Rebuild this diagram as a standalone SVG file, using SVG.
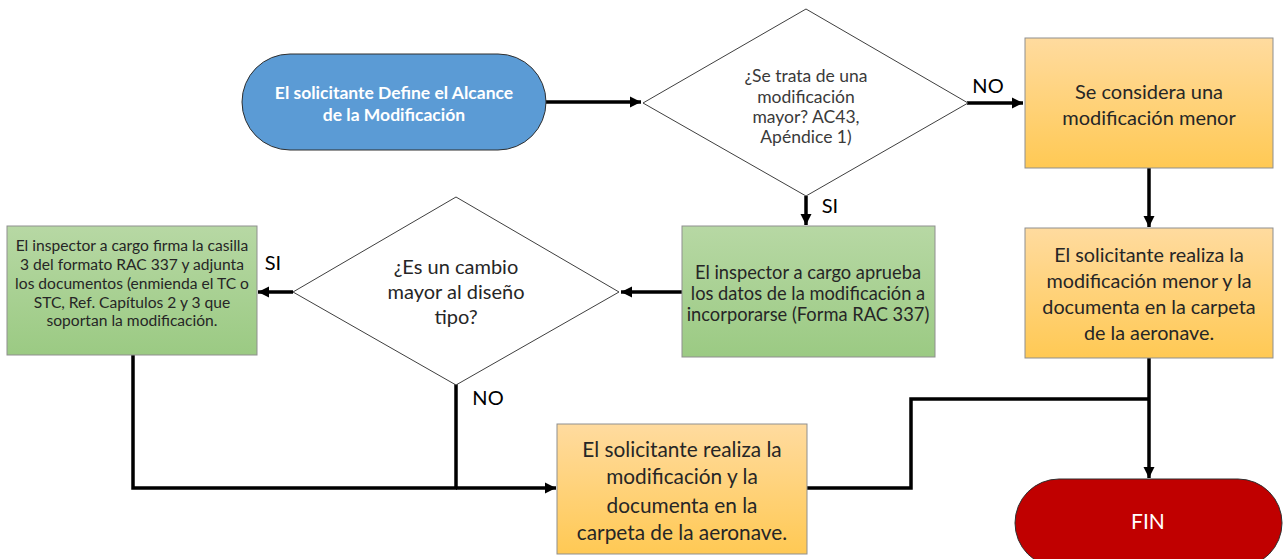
<svg xmlns="http://www.w3.org/2000/svg" width="1284" height="559" viewBox="0 0 1284 559">
<defs>
<linearGradient id="gOr" x1="0" y1="0" x2="0" y2="1"><stop offset="0" stop-color="#FFDB9F"/><stop offset="1" stop-color="#FFC954"/></linearGradient>
<linearGradient id="gGr" x1="0" y1="0" x2="0" y2="1"><stop offset="0" stop-color="#B7D8A4"/><stop offset="1" stop-color="#9BCA83"/></linearGradient>
<marker id="ah" viewBox="0 0 10 10" refX="10" refY="5" markerWidth="3.2" markerHeight="3.2" orient="auto" markerUnits="strokeWidth"><path d="M0,0 L10,5 L0,10 z" fill="#000"/></marker>
<style>
.t{font-family:Lato,"Liberation Sans",sans-serif;text-anchor:middle}
.box{stroke:#8f8f8f;stroke-width:1}
.dia{fill:#fff;stroke:#3f3f3f;stroke-width:1}
.c{fill:none;stroke:#000;stroke-width:3.5}
.ca{fill:none;stroke:#000;stroke-width:3.5;marker-end:url(#ah)}
.lbl{font-family:Lato,"Liberation Sans",sans-serif;font-size:20px;fill:#000}
</style>
</defs>
<rect width="1284" height="559" fill="#fff"/>

<g id="connectors">
<path class="ca" d="M546,102 L641,102"/>
<path class="ca" d="M967,103 L1023,103"/>
<path class="ca" d="M806,196 L806,225"/>
<path class="ca" d="M1149,168 L1149,227"/>
<path class="ca" d="M682,292 L621,292"/>
<path class="ca" d="M293,292 L258,292"/>
<path class="c" d="M133,355 L133,488 L457,488"/>
<path class="c" d="M456,384 L456,488"/>
<path class="ca" d="M456,488 L556,488"/>
<path class="c" d="M807,488 L911,488 L911,399 L1149,399"/>
<path class="ca" d="M1149,358 L1149,478"/>
</g>

<g id="labels">
<text class="lbl" x="988" y="93" text-anchor="middle">NO</text>
<text class="lbl" x="830" y="213" text-anchor="middle">SI</text>
<text class="lbl" x="273" y="270" text-anchor="middle">SI</text>
<text class="lbl" x="488" y="405" text-anchor="middle">NO</text>
</g>

<g id="start">
<rect x="242" y="54" width="304" height="96" rx="48" fill="#5B9BD5" stroke="#2f2f2f" stroke-width="1"/>
<text class="t" font-size="17.5" font-weight="bold" fill="#fff"><tspan x="394" y="99">El solicitante Define el Alcance</tspan><tspan x="394" y="121">de la Modificación</tspan></text>
</g>

<g id="decision1">
<polygon class="dia" points="806,9 968,103 806,196 643,103"/>
<text class="t" font-size="17.5" fill="#3a3a3a"><tspan x="806" y="82">¿Se trata de una</tspan><tspan x="806" y="103">modificación</tspan><tspan x="806" y="123">mayor? AC43,</tspan><tspan x="806" y="143">Apéndice 1)</tspan></text>
</g>

<g id="minor">
<rect class="box" x="1025" y="38" width="248" height="130" fill="url(#gOr)"/>
<text class="t" font-size="20" fill="#262626"><tspan x="1149" y="99">Se considera una</tspan><tspan x="1149" y="125">modificación menor</tspan></text>
</g>

<g id="minorDo">
<rect class="box" x="1025" y="228" width="248" height="130" fill="url(#gOr)"/>
<text class="t" font-size="19.8" fill="#262626"><tspan x="1149" y="262">El solicitante realiza la</tspan><tspan x="1149" y="288">modificación menor y la</tspan><tspan x="1149" y="314">documenta en la carpeta</tspan><tspan x="1149" y="340">de la aeronave.</tspan></text>
</g>

<g id="approve">
<rect class="box" x="682" y="226" width="253" height="131" fill="url(#gGr)"/>
<text class="t" font-size="18.3" fill="#262626"><tspan x="808" y="279">El inspector a cargo aprueba</tspan><tspan x="808" y="300">los datos de la modificación a</tspan><tspan x="808" y="321">incorporarse (Forma RAC 337)</tspan></text>
</g>

<g id="decision2">
<polygon class="dia" points="456,197 619,292 456,385 293,292"/>
<text class="t" font-size="20" fill="#262626"><tspan x="456" y="274">¿Es un cambio</tspan><tspan x="456" y="299">mayor al diseño</tspan><tspan x="456" y="324">tipo?</tspan></text>
</g>

<g id="sign">
<rect class="box" x="7" y="226" width="250" height="129" fill="url(#gGr)"/>
<text class="t" font-size="15.6" fill="#262626"><tspan x="132" y="251">El inspector a cargo firma la casilla</tspan><tspan x="132" y="270">3 del formato RAC 337 y adjunta</tspan><tspan x="132" y="289">los documentos (enmienda el TC o</tspan><tspan x="132" y="308">STC, Ref. Capítulos 2 y 3 que</tspan><tspan x="132" y="326">soportan la modificación.</tspan></text>
</g>

<g id="majorDo">
<rect class="box" x="557" y="424" width="250" height="130" fill="url(#gOr)"/>
<text class="t" font-size="20.8" fill="#262626"><tspan x="682" y="457">El solicitante realiza la</tspan><tspan x="682" y="484">modificación y la</tspan><tspan x="682" y="513">documenta en la</tspan><tspan x="682" y="540">carpeta de la aeronave.</tspan></text>
</g>

<g id="fin">
<rect x="1015" y="479" width="267" height="88" rx="44" fill="#C00000" stroke="#2f2f2f" stroke-width="1"/>
<text class="t" font-size="21" fill="#fff" x="1148" y="529">FIN</text>
</g>
</svg>
